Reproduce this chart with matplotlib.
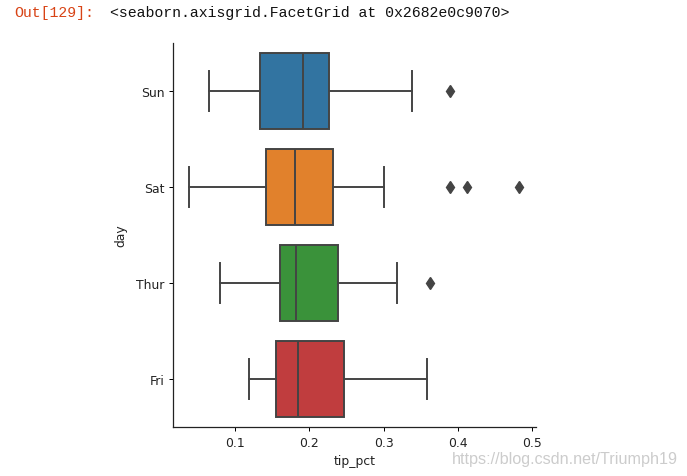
import matplotlib.pyplot as plt

# values (tip_pct by day)
days = ['Sun', 'Sat', 'Thur', 'Fri']
whislo = [0.065, 0.038, 0.080, 0.118]
q1 = [0.134, 0.142, 0.161, 0.155]
med = [0.192, 0.180, 0.182, 0.185]
q3 = [0.227, 0.232, 0.238, 0.246]
whishi = [0.338, 0.300, 0.318, 0.358]
fliers = [[0.390], [0.389, 0.413, 0.483], [0.363], []]
colors = ['#3274a1', '#e1812c', '#3a923a', '#c03d3e']
xticks = [0.1, 0.2, 0.3, 0.4, 0.5]

gray = '#444444'
lw = 1.4

fig = plt.figure(figsize=(6.87, 4.77), dpi=100)
ax = fig.add_axes([0.2518, 0.1027, 0.5284, 0.8051])

stats = []
for i, d in enumerate(days):
    stats.append(dict(label=d, whislo=whislo[i], q1=q1[i], med=med[i],
                      q3=q3[i], whishi=whishi[i], fliers=fliers[i]))

bp = ax.bxp(stats, positions=range(len(days)), widths=0.8, capwidths=0.42,
            orientation='horizontal', patch_artist=True,
            boxprops=dict(edgecolor=gray, linewidth=lw),
            whiskerprops=dict(color=gray, linewidth=lw),
            capprops=dict(color=gray, linewidth=lw),
            medianprops=dict(color=gray, linewidth=lw),
            flierprops=dict(marker='d', markerfacecolor=gray,
                            markeredgecolor=gray, markersize=6))
for box, c in zip(bp['boxes'], colors):
    box.set_facecolor(c)

ax.set_ylim(3.5, -0.5)
ax.set_xlim(0.0162, 0.5054)
ax.set_xticks(xticks)
ax.set_xticklabels([str(t) for t in xticks])
ax.set_yticks(range(len(days)))
ax.set_yticklabels(days)
ax.tick_params(labelsize=8.9, length=3.1, width=0.72, pad=3.1,
               color='black', labelcolor='#222222')
ax.spines['top'].set_visible(False)
ax.spines['right'].set_visible(False)
for s in ['left', 'bottom']:
    ax.spines[s].set_linewidth(0.9)
    ax.spines[s].set_color('#222222')
ax.set_xlabel('tip_pct', fontsize=8.9, color='#222222', labelpad=4)
ax.set_ylabel('day', fontsize=8.9, color='#222222', labelpad=6)

# notebook output prompt and watermark
fig.text(14 / 687, 1 - 13 / 477, 'Out[129]:', family='Liberation Mono',
         fontsize=10.7, color='#d84315', va='center')
fig.text(110 / 687, 1 - 13 / 477, '<seaborn.axisgrid.FacetGrid at 0x2682e0c9070>',
         family='Liberation Mono', fontsize=10.75, color='#111111', va='center')
fig.text(452 / 687, 1 - 460 / 477, 'https://blog.csdn.net/Triumph19',
         family='Liberation Sans', fontsize=11.6, color='#cccccc', va='center')

fig.savefig('out.png', dpi=100)
